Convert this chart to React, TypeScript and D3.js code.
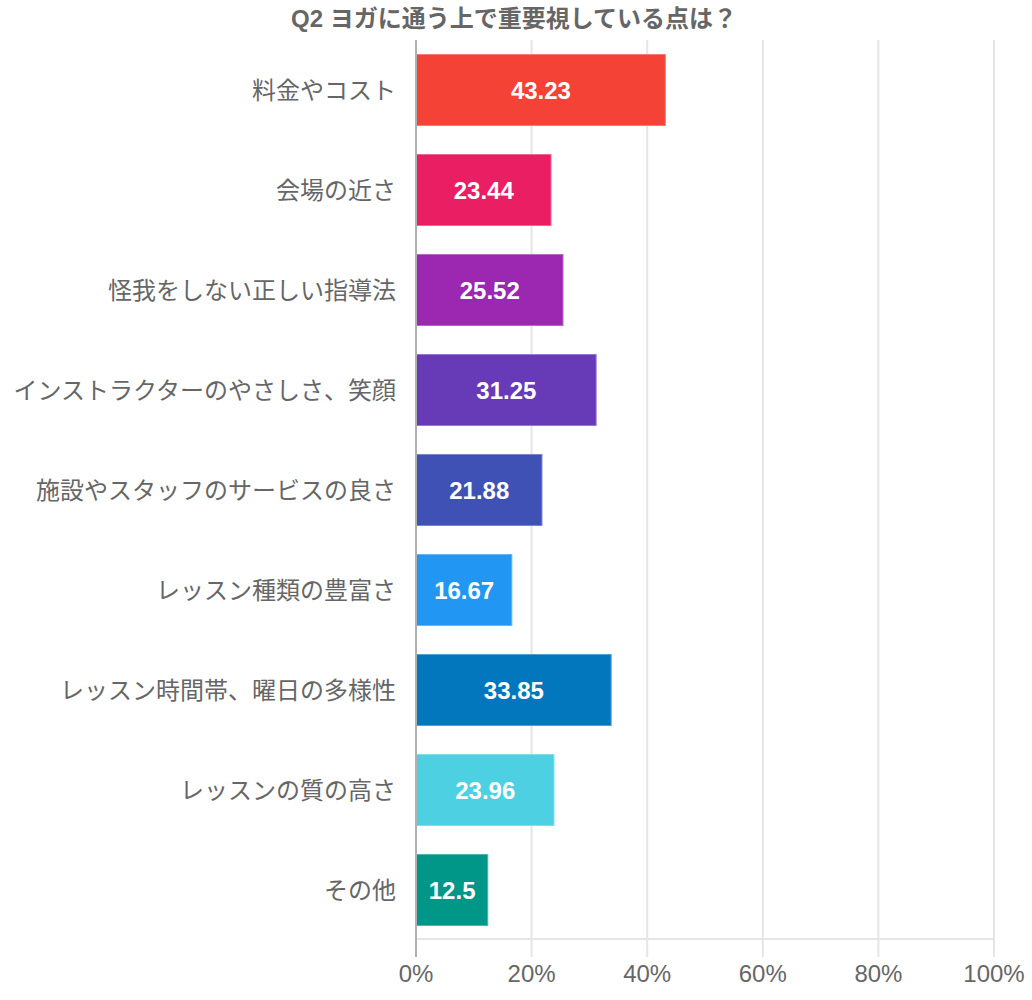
import React, { useRef, useEffect } from 'react';
import * as d3 from 'd3';

const title = 'Q2 ヨガに通う上で重要視している点は？';

const categories = [
  '料金やコスト',
  '会場の近さ',
  '怪我をしない正しい指導法',
  'インストラクターのやさしさ、笑顔',
  '施設やスタッフのサービスの良さ',
  'レッスン種類の豊富さ',
  'レッスン時間帯、曜日の多様性',
  'レッスンの質の高さ',
  'その他',
];

const values = [43.23, 23.44, 25.52, 31.25, 21.88, 16.67, 33.85, 23.96, 12.5];

const barColors = [
  '#f44336',
  '#e91e63',
  '#9c27b0',
  '#673ab7',
  '#3f51b5',
  '#2196f3',
  '#0277bd',
  '#4dd0e1',
  '#009688',
];

const xTicks = [0, 20, 40, 60, 80, 100];

const FONT = '"Liberation Sans", "Noto Sans CJK JP", sans-serif';

const BarChart: React.FC = () => {
  const svgRef = useRef<SVGSVGElement | null>(null);
  const width = 1032;
  const height = 1000;
  const margin = { top: 40, right: 38, bottom: 60, left: 416 };

  useEffect(() => {
    if (!svgRef.current) return;
    const svg = d3.select(svgRef.current);
    svg.selectAll('*').remove();

    const innerWidth = width - margin.left - margin.right;
    const innerHeight = height - margin.top - margin.bottom;

    const x = d3.scaleLinear().domain([0, 100]).range([0, innerWidth]);
    const y = d3.scaleBand<string>()
      .domain(categories)
      .range([0, innerHeight])
      .paddingInner(0.28)
      .paddingOuter(0.14);

    // title
    svg.append('text')
      .attr('x', width / 2 - 2)
      .attr('y', 18)
      .attr('text-anchor', 'middle')
      .attr('dominant-baseline', 'central')
      .attr('font-family', FONT)
      .attr('font-size', 24)
      .attr('font-weight', 'bold')
      .attr('fill', '#666')
      .text(title);

    const chart = svg.append('g')
      .attr('transform', `translate(${margin.left},${margin.top})`);

    // vertical grid lines with tick marks below
    chart.append('g')
      .selectAll('line')
      .data(xTicks.filter(t => t !== 0))
      .join('line')
      .attr('x1', d => x(d))
      .attr('x2', d => x(d))
      .attr('y1', 0)
      .attr('y2', innerHeight + 17)
      .attr('stroke', '#e5e5e5')
      .attr('stroke-width', 2);

    // bottom line
    chart.append('line')
      .attr('x1', 0)
      .attr('x2', innerWidth)
      .attr('y1', innerHeight - 1)
      .attr('y2', innerHeight - 1)
      .attr('stroke', '#e5e5e5')
      .attr('stroke-width', 2);

    // bars
    chart.append('g')
      .selectAll('rect')
      .data(values)
      .join('rect')
      .attr('x', 0.5)
      .attr('y', (_, i) => (y(categories[i]) as number) + 0.5)
      .attr('width', d => x(d) - 1)
      .attr('height', y.bandwidth() - 1)
      .attr('fill', (_, i) => barColors[i])
      .attr('stroke', (_, i) => d3.interpolateRgb(barColors[i], '#ffffff')(0.3))
      .attr('stroke-width', 1);

    // value labels
    chart.append('g')
      .selectAll('text')
      .data(values)
      .join('text')
      .attr('x', d => x(d) / 2)
      .attr('y', (_, i) => (y(categories[i]) as number) + y.bandwidth() / 2)
      .attr('text-anchor', 'middle')
      .attr('dominant-baseline', 'central')
      .attr('font-family', FONT)
      .attr('font-size', 24)
      .attr('font-weight', 'bold')
      .attr('fill', '#fff')
      .text(d => String(d));

    // left axis line
    chart.append('line')
      .attr('x1', 0)
      .attr('x2', 0)
      .attr('y1', 0)
      .attr('y2', innerHeight + 17)
      .attr('stroke', '#b0b0b0')
      .attr('stroke-width', 2);

    // category labels
    chart.append('g')
      .selectAll('text')
      .data(categories)
      .join('text')
      .attr('x', -20)
      .attr('y', d => (y(d) as number) + y.bandwidth() / 2)
      .attr('text-anchor', 'end')
      .attr('dominant-baseline', 'central')
      .attr('font-family', FONT)
      .attr('font-size', 24)
      .attr('fill', '#666')
      .text(d => d);

    // x tick labels
    chart.append('g')
      .selectAll('text')
      .data(xTicks)
      .join('text')
      .attr('x', d => x(d))
      .attr('y', innerHeight + 33)
      .attr('text-anchor', 'middle')
      .attr('dominant-baseline', 'central')
      .attr('font-family', FONT)
      .attr('font-size', 24)
      .attr('fill', '#666')
      .text(d => `${d}%`);
  }, []);

  return (
    <svg
      ref={svgRef}
      width={width}
      height={height}
      style={{ position: 'absolute', left: 0, top: 0, background: '#fff' }}
    />
  );
};

export default function App() {
  return <BarChart />;
}
